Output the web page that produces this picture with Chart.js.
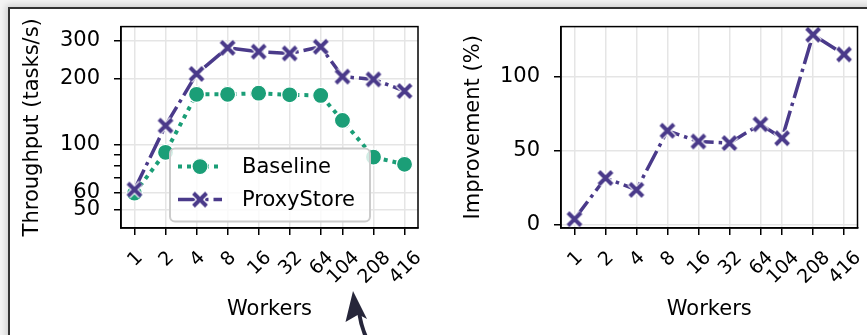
<!DOCTYPE html>
<html>
<head>
<meta charset="utf-8">
<script src="https://cdn.jsdelivr.net/npm/chart.js@4.4.0/dist/chart.umd.min.js"></script>
<style>
  html, body { margin: 0; padding: 0; }
  body { width: 867px; height: 335px; overflow: hidden; background: #f3f3f3; position: relative; }
  #sheet { position: absolute; left: 8px; top: 7px; width: 900px; height: 400px; background: #fff;
           border-top: 2px solid #333; border-left: 2px solid #333; box-shadow: -2px -2px 6px rgba(0,0,0,0.15); }
  canvas { position: absolute; top: 0; }
  #c1 { left: 0; }
  #c2 { left: 432px; }
  #arrow { position: absolute; left: 0; top: 0; }
</style>
</head>
<body>
<div id="sheet"></div>
<canvas id="c1" width="432" height="335"></canvas>
<canvas id="c2" width="435" height="335"></canvas>
<svg id="arrow" width="867" height="335">
  <path d="M359,312 Q361,326 366,337" fill="none" stroke="#26263a" stroke-width="4"/>
  <path d="M353,291 L345.5,322 L358.5,314.5 L367,319 Z" fill="#26263a"/>
</svg>
<script>
// values
const workers = [1, 2, 4, 8, 16, 32, 64, 104, 208, 416];
const baseline = [59.7, 92, 170, 170, 172, 169, 168, 129, 87.5, 81];
const proxystore = [62, 122, 211, 278, 267, 262, 281, 205, 199, 176];
const improvement = [3.8, 31.6, 23.6, 63.6, 56.3, 55.2, 68, 58.5, 128.5, 115.2];
const throughputTicks = [50, 60, 100, 200, 300];
const throughputMinorTicks = [70, 80, 90];
const improvementTicks = [0, 50, 100];

const GREEN = '#1b9e77';
const PURPLE = '#4a3a8a';
const GRID = '#e5e5e5';
const FONT = 'DejaVu Sans';
const DASHDOT = [22, 5, 3.5, 5];
const DOTTED = [4, 5];

Chart.defaults.font.family = FONT;
Chart.defaults.color = '#000';

// X marker with a white edge, like matplotlib's markeredgecolor
function makeCross(color) {
    const c = document.createElement('canvas');
    c.width = 22; c.height = 22;
    const g = c.getContext('2d');
    const d = 6.5;
    g.lineCap = 'butt';
    [['#fff', 6.5], [color, 4]].forEach(([col, lw]) => {
        g.strokeStyle = col;
        g.lineWidth = lw;
        g.beginPath();
        g.moveTo(11 - d, 11 - d); g.lineTo(11 + d, 11 + d);
        g.moveTo(11 + d, 11 - d); g.lineTo(11 - d, 11 + d);
        g.stroke();
    });
    return c;
}
const cross = makeCross(PURPLE);

function pairs(ys) {
    return workers.map((w, i) => ({ x: w, y: ys[i] }));
}

function workerAxis() {
    return {
        type: 'logarithmic',
        min: 0.74,
        max: 562,
        bounds: 'data',
        afterBuildTicks: s => { s.ticks = workers.map(v => ({ value: v })); },
        afterFit: s => { s.height = 107; },
        ticks: { display: false },
        grid: { color: GRID, lineWidth: 1.5, tickLength: 7, tickColor: '#000', tickWidth: 1.5 },
        border: { color: '#000', width: 1.5 },
        title: { display: true, text: 'Workers', font: { size: 21 }, color: '#000', padding: { top: 0, bottom: 13 } }
    };
}

// frame on all four sides + matplotlib-style rotated x labels (centered under the tick)
const framePlugin = {
    id: 'frame',
    afterDatasetsDraw(chart) {
        const { ctx, chartArea: a } = chart;
        ctx.save();
        ctx.strokeStyle = '#000';
        ctx.lineWidth = 1.5;
        ctx.strokeRect(a.left, a.top, a.right - a.left, a.bottom - a.top);
        ctx.restore();
    },
    afterDraw(chart) {
        const { ctx, chartArea: a } = chart;
        const xs = chart.scales.x;
        const size = 19;
        ctx.save();
        ctx.font = size + 'px "' + FONT + '"';
        ctx.fillStyle = '#000';
        ctx.textAlign = 'center';
        ctx.textBaseline = 'alphabetic';
        workers.forEach(w => {
            const label = String(w);
            const tw = ctx.measureText(label).width;
            const th = size * 1.17;
            const px = xs.getPixelForValue(w);
            const cy = a.bottom + 18 + (tw + th) * Math.SQRT1_2 / 2;
            ctx.save();
            ctx.translate(px, cy);
            ctx.rotate(-Math.PI / 4);
            ctx.fillText(label, 0, 0.345 * size);
            ctx.restore();
        });
        ctx.restore();
    }
};

const legendPlugin = {
    id: 'boxLegend',
    afterDatasetsDraw(chart) {
        const { ctx, chartArea: a } = chart;
        const x = a.left + 49, y = a.top + 122, w = 200, h = 73;
        ctx.save();
        ctx.beginPath();
        ctx.roundRect(x, y, w, h, 5);
        ctx.fillStyle = 'rgba(255,255,255,0.8)';
        ctx.fill();
        ctx.strokeStyle = '#cccccc';
        ctx.lineWidth = 2;
        ctx.stroke();

        const rows = [
            { label: 'Baseline', color: GREEN, dash: DOTTED, lw: 4, mark: 'circle', cy: y + 18 },
            { label: 'ProxyStore', color: PURPLE, dash: DASHDOT, lw: 3.5, mark: 'cross', cy: y + 51 }
        ];
        rows.forEach(r => {
            ctx.strokeStyle = r.color;
            ctx.lineWidth = r.lw;
            ctx.setLineDash(r.dash);
            ctx.beginPath();
            ctx.moveTo(x + 8, r.cy);
            ctx.lineTo(x + 52, r.cy);
            ctx.stroke();
            ctx.setLineDash([]);
            if (r.mark === 'circle') {
                ctx.beginPath();
                ctx.arc(x + 30, r.cy, 8, 0, Math.PI * 2);
                ctx.fillStyle = r.color;
                ctx.fill();
                ctx.strokeStyle = '#fff';
                ctx.lineWidth = 1.2;
                ctx.stroke();
            } else {
                ctx.drawImage(cross, x + 30 - 11, r.cy - 11);
            }
            ctx.fillStyle = '#000';
            ctx.font = '21px "' + FONT + '"';
            ctx.textBaseline = 'middle';
            ctx.textAlign = 'left';
            ctx.fillText(r.label, x + 72, r.cy + 1);
        });
        ctx.restore();
    }
};

new Chart(document.getElementById('c1'), {
    type: 'line',
    data: {
        datasets: [{
            label: 'ProxyStore',
            data: pairs(proxystore),
            borderColor: PURPLE,
            borderWidth: 3.5,
            borderDash: DASHDOT,
            pointStyle: cross,
            pointRadius: 6,
            tension: 0,
            fill: false
        }, {
            label: 'Baseline',
            data: pairs(baseline),
            borderColor: GREEN,
            borderWidth: 4,
            borderDash: DOTTED,
            pointStyle: 'circle',
            pointRadius: 8,
            pointBackgroundColor: GREEN,
            pointBorderColor: '#fff',
            pointBorderWidth: 1.2,
            tension: 0,
            fill: false
        }]
    },
    options: {
        responsive: false,
        animation: false,
        events: [],
        layout: { padding: { top: 23, right: 14, left: 0, bottom: 0 } },
        plugins: { legend: { display: false }, tooltip: { enabled: false } },
        scales: {
            x: workerAxis(),
            y: {
                type: 'logarithmic',
                min: 41.3,
                max: 348,
                bounds: 'data',
                afterBuildTicks: s => {
                    s.ticks = throughputTicks.concat(throughputMinorTicks)
                        .sort((p, q) => p - q).map(v => ({ value: v }));
                },
                afterFit: s => { s.width = 121; },
                ticks: {
                    autoSkip: false,
                    padding: 14,
                    font: { size: 21 },
                    color: '#000',
                    callback: v => throughputTicks.includes(v) ? String(v) : ''
                },
                grid: {
                    color: c => (c.tick && throughputTicks.includes(c.tick.value)) ? GRID : 'rgba(0,0,0,0)',
                    lineWidth: 1.5, tickLength: 7, tickColor: '#000', tickWidth: 1.5
                },
                border: { color: '#000', width: 1.5 },
                title: { display: true, text: 'Throughput (tasks/s)', font: { size: 21 }, color: '#000', padding: { top: 20, bottom: 0 } }
            }
        }
    },
    plugins: [framePlugin, legendPlugin]
});

new Chart(document.getElementById('c2'), {
    type: 'line',
    data: {
        datasets: [{
            label: 'Improvement',
            data: pairs(improvement),
            borderColor: PURPLE,
            borderWidth: 3.5,
            borderDash: DASHDOT,
            pointStyle: cross,
            pointRadius: 6,
            tension: 0,
            fill: false
        }]
    },
    options: {
        responsive: false,
        animation: false,
        events: [],
        layout: { padding: { top: 23, right: 9.5, left: 0, bottom: 0 } },
        plugins: { legend: { display: false }, tooltip: { enabled: false } },
        scales: {
            x: workerAxis(),
            y: {
                type: 'linear',
                min: -2.2,
                max: 134,
                bounds: 'data',
                afterBuildTicks: s => { s.ticks = improvementTicks.map(v => ({ value: v })); },
                afterFit: s => { s.width = 129; },
                ticks: { autoSkip: false, padding: 14, font: { size: 21 }, color: '#000' },
                grid: { color: GRID, lineWidth: 1.5, tickLength: 7, tickColor: '#000', tickWidth: 1.5 },
                border: { color: '#000', width: 1.5 },
                title: { display: true, text: 'Improvement (%)', font: { size: 21 }, color: '#000', padding: { top: 29, bottom: 0 } }
            }
        }
    },
    plugins: [framePlugin]
});
</script>
</body>
</html>
